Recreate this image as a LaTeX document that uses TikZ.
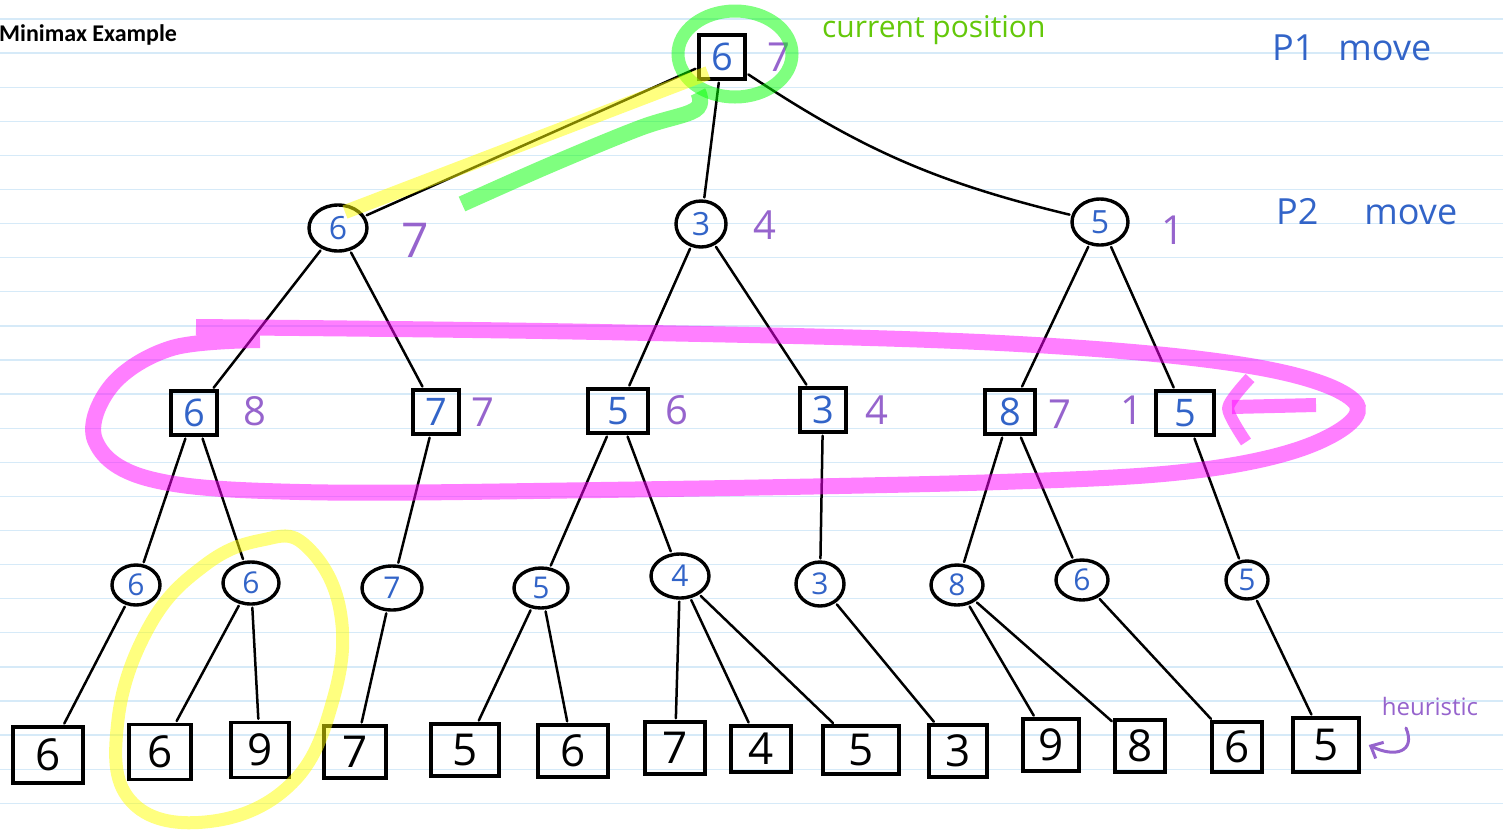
\documentclass[tikz,border=0pt]{standalone}
\usepackage{fontspec}
\setmainfont{Open Sans}
\newfontfamily\titlefont{Carlito}
\usetikzlibrary{arrows.meta,shapes.geometric}
\definecolor{rulecol}{RGB}{214,234,248}
\definecolor{inkblue}{RGB}{50,100,200}
\definecolor{inkpurple}{RGB}{150,100,205}
\definecolor{inkgreen}{RGB}{100,200,10}
\begin{document}
\begin{tikzpicture}[x=1pt,y=-1pt,
  edge/.style={line width=2.5pt, line cap=round, shorten >=2pt, shorten <=2pt},
  sqnode/.style={draw, line width=3.4pt, inner sep=0pt, text=inkblue, minimum width=46pt, minimum height=44pt, font=\fontsize{38}{38}\selectfont},
  l1node/.style={draw, ellipse, line width=3.4pt, inner sep=0pt, text=inkblue, minimum width=56pt, minimum height=46pt, font=\fontsize{32}{32}\selectfont},
  l3node/.style={draw, ellipse, line width=3.4pt, inner sep=0pt, text=inkblue, minimum width=50pt, minimum height=40pt, font=\fontsize{30}{30}\selectfont},
  leaf/.style={draw, line width=3.4pt, inner sep=0pt, text=black, minimum width=58pt, minimum height=52pt, font=\fontsize{44}{44}\selectfont},
  val/.style={text=inkpurple, inner sep=0pt, font=\fontsize{40}{40}\selectfont},
  note/.style={text=inkblue, inner sep=0pt, anchor=west, font=\fontsize{36}{36}\selectfont},
  pinkhl/.style={draw={rgb,255:red,255;green,0;blue,255}, draw opacity=0.5, line width=16pt},
  greenhl/.style={draw={rgb,255:red,0;green,255;blue,0}, draw opacity=0.5, line width=14pt},
  yellowhl/.style={draw={rgb,255:red,255;green,255;blue,0}, draw opacity=0.5, line width=14pt}
]
\useasboundingbox (0,0) rectangle (1503,831);
\fill[white] (0,0) rectangle (1503,831);
\foreach \k in {0,...,23} \draw[rulecol, line width=1.3pt] (0,{19+34.1*\k}) -- (1503,{19+34.1*\k});

\node[anchor=west, inner sep=0pt, font=\titlefont\bfseries\fontsize{24}{24}\selectfont] (title) at (-1,35) {Minimax Example};

% root
\node[sqnode] (r) at (722,57) {6};
\node[val] (rv) at (779,57) {7};
% level 1
\node[l1node, minimum width=58pt] (a) at (338,228) {6};
\node[l1node, minimum width=50pt] (b) at (701,224) {3};
\node[l1node] (c) at (1100,222) {5};
\node[val, font=\fontsize{48}{48}\selectfont] (av) at (415,240) {7};
\node[val] (bv) at (765,225) {4};
\node[val] (cv) at (1173,230) {1};
% level 2
\node[sqnode] (a1) at (194,413) {6};
\node[sqnode] (a2) at (436,412) {7};
\node[sqnode, minimum width=60pt] (b1) at (618,411) {5};
\node[sqnode] (b2) at (823,410) {3};
\node[sqnode, minimum width=50pt] (c1) at (1010,412) {8};
\node[sqnode, minimum width=58pt] (c2) at (1185,413) {5};
\node[val] (a1v) at (255,411) {8};
\node[val] (a2v) at (483,412) {7};
\node[val] (b1v) at (677,410) {6};
\node[val] (b2v) at (877,410) {4};
\node[val] (c1v) at (1060,414) {7};
\node[val] (c2v) at (1132,410) {1};
% level 3
\node[l3node, minimum width=48pt] (n1) at (136,585) {6};
\node[l3node, minimum width=56pt, minimum height=42pt] (n2) at (251,583) {6};
\node[l3node, minimum width=60pt, minimum height=44pt] (n3) at (392,588) {7};
\node[l3node, minimum width=54pt] (n4) at (541,588) {5};
\node[l3node, minimum width=58pt, minimum height=44pt] (n5) at (680,576) {4};
\node[l3node, minimum width=48pt, minimum height=44pt] (n6) at (820,584) {3};
\node[l3node, minimum width=52pt] (n7) at (957,585) {8};
\node[l3node, minimum width=52pt] (n8) at (1082,580) {6};
\node[l3node, minimum width=42pt, minimum height=38pt] (n9) at (1247,580) {5};
% leaves
\node[leaf, minimum width=70pt, minimum height=56pt] (l1) at (48,755) {6};
\node[leaf, minimum width=62pt, minimum height=55pt] (l2) at (160,752) {6};
\node[leaf, minimum width=58pt, minimum height=55pt] (l3) at (260,750) {9};
\node[leaf, minimum width=62pt] (l4) at (355,752) {7};
\node[leaf, minimum width=68pt] (l5) at (465,750) {5};
\node[leaf, minimum width=70pt] (l6) at (573,751) {6};
\node[leaf, minimum width=60pt] (l7) at (675,748) {7};
\node[leaf, minimum width=60pt, minimum height=46pt] (l8) at (761,749) {4};
\node[leaf, minimum width=76pt, minimum height=48pt] (l9) at (861,750) {5};
\node[leaf, minimum width=58pt] (l10) at (958,751) {3};
\node[leaf, minimum width=56pt] (l11) at (1051,745) {9};
\node[leaf, minimum width=50pt] (l12) at (1140,746) {8};
\node[leaf, minimum width=50pt, minimum height=50pt] (l13) at (1237,747) {6};
\node[leaf, minimum width=66pt, minimum height=54pt] (l14) at (1326,745) {5};

% edges
\draw[edge] (r) -- (a);
\draw[edge] (r) -- (b);
\draw[edge] (r) to[bend right=10] (c);
\draw[edge] (a) -- (a1);
\draw[edge] (a) -- (a2);
\draw[edge] (b) -- (b1);
\draw[edge] (b) -- (b2);
\draw[edge] (c) -- (c1);
\draw[edge] (c) -- (c2);
\draw[edge] (a1) -- (n1);
\draw[edge] (a1) -- (n2);
\draw[edge] (a2) -- (n3);
\draw[edge] (b1) -- (n4);
\draw[edge] (b1) -- (n5);
\draw[edge] (b2) -- (n6);
\draw[edge] (c1) -- (n7);
\draw[edge] (c1) -- (n8);
\draw[edge] (c2) -- (n9);
\draw[edge] (n1) -- (l1);
\draw[edge] (n2) -- (l2);
\draw[edge] (n2) -- (l3);
\draw[edge] (n3) -- (l4);
\draw[edge] (n4) -- (l5);
\draw[edge] (n4) -- (l6);
\draw[edge] (n5) -- (l7);
\draw[edge] (n5) -- (l8);
\draw[edge] (n5) -- (l9);
\draw[edge] (n6) -- (l10);
\draw[edge] (n7) -- (l11);
\draw[edge] (n7) -- (l12);
\draw[edge] (n8) -- (l13);
\draw[edge] (n9) -- (l14);

% highlights
\draw[greenhl, line width=13pt] (735,54) ellipse [x radius=57, y radius=43];
\draw[greenhl, line width=16pt] plot[smooth, tension=0.6] coordinates {(698,92) (695,110) (640,128) (550,165) (462,204)};
\draw[yellowhl] (708,73) -- (345,212);
\draw[yellowhl, line width=13pt] plot[smooth cycle, tension=0.7] coordinates {(305,545) (340,610) (333,700) (290,785) (205,822) (130,800) (118,720) (150,625) (205,565) (262,540)};
\draw[pinkhl] plot[smooth, tension=0.6] coordinates {(196,327) (600,332) (1000,343) (1250,366) (1355,402) (1318,442) (1200,470) (1000,482) (600,490) (300,492) (150,479) (95,440) (112,385) (172,348) (260,340)};
\draw[pinkhl, line width=14pt] (1316,405) -- (1232,407);
\draw[pinkhl, line width=12pt, line join=round] plot[smooth, tension=0.4] coordinates {(1250,378) (1228,408) (1246,442)};

% annotations
\node[text=inkgreen, anchor=west, inner sep=0pt, font=\fontsize{30}{30}\selectfont] (cur) at (822,30) {current position};
\node[note] (p1) at (1272,48) {P1\hspace{24pt}move};
\node[note] (p2) at (1276,212) {P2\hspace{46pt}move};
\node[text=inkpurple, inner sep=0pt, font=\fontsize{24}{24}\selectfont] (heu) at (1430,706) {heuristic};
\coordinate (hstart) at (1406,728);
\coordinate (hend) at ([xshift=8pt]l14.east);
\draw[inkpurple, line width=3pt, line cap=round, -{Straight Barb[length=10pt, width=18pt]}] (hstart) .. controls (1416,752) and (1395,758) .. (hend);
\end{tikzpicture}
\end{document}
